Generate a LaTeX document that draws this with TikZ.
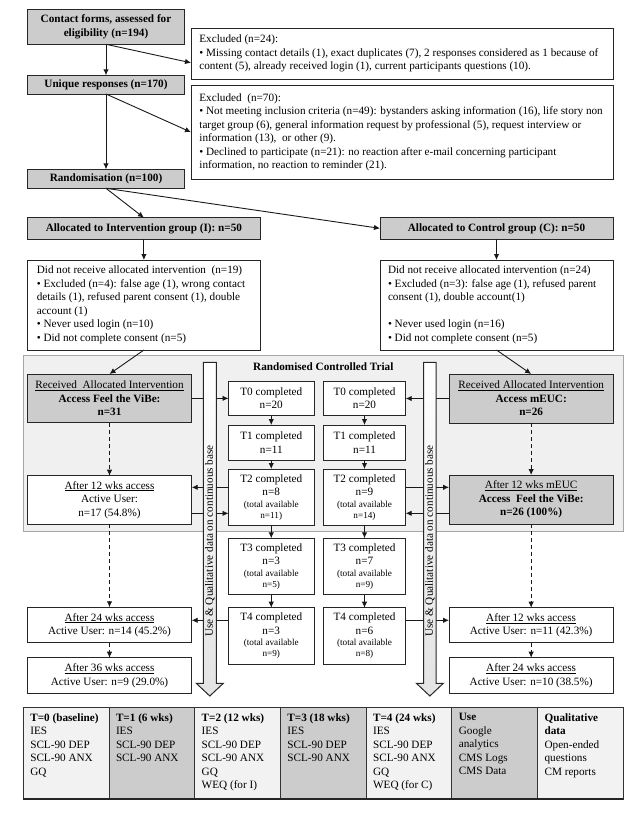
\documentclass[tikz,border=0pt]{standalone}
\usepackage{fontspec}
\setmainfont{Liberation Serif}
\usetikzlibrary{arrows.meta,calc}
\newcommand{\smf}{\fontsize{9.2}{10}\selectfont}
\begin{document}
\begin{tikzpicture}[x=1pt,y=-1pt,
  every node/.style={inner sep=0pt, outer sep=0pt},
  txt/.style={font=\fontsize{11.2}{13.5}\selectfont, align=left},
  ctxt/.style={font=\fontsize{11.2}{13.5}\selectfont, align=center},
  box/.style={draw=black!85, line width=1pt, anchor=north west, ctxt},
  gbox/.style={box, fill=gray!40},
  wbox/.style={box, fill=white},
  bfb/.style={font=\fontsize{11.2}{13.5}\selectfont\bfseries},
  arr/.style={-{Latex[length=6pt,width=5.5pt]}, line width=0.9pt, draw=black!90},
  darr/.style={arr, dash pattern=on 4pt off 3pt},
  cellb/.style={draw=black!80, line width=0.9pt, anchor=north west, minimum width=85.71pt, minimum height=91.6pt},
  bigarrow/.style={line width=1pt, draw=black!85, top color=white, bottom color=gray!22},
]
\useasboundingbox[fill=white] (0,0) rectangle (642,835);

% ---------- top flow ----------
\node[gbox, bfb, minimum width=156.4pt, minimum height=35pt] (c1) at (27.8,9.3) {Contact forms, assessed for\\eligibility (n=194)};
\node[wbox, minimum width=422pt, minimum height=50.7pt] (ex1) at (191,28.3) {};
\node[txt, anchor=west] (ex1t) at ([xshift=8.4pt]ex1.west) {Excluded (n=24):\\\textbullet\ Missing contact details (1), exact duplicates (7), 2 responses considered as 1 because of\\content (5), already received login (1), current participants questions (10).};
\node[gbox, bfb, minimum width=156.4pt, minimum height=18.7pt] (un) at (27.8,75.3) {Unique responses (n=170)};
\node[wbox, minimum width=422pt, minimum height=94.3pt] (ex2) at (191,85) {};
\node[txt, anchor=west] (ex2t) at ([xshift=8.4pt]ex2.west) {Excluded\ \ (n=70):\\\textbullet\ Not meeting inclusion criteria (n=49): bystanders asking information (16), life story non\\target group (6), general information request by professional (5), request interview or\\information (13),\ \ or other (9).\\\textbullet\ Declined to participate (n=21): no reaction after e-mail concerning participant\\information, no reaction to reminder (21).};
\node[gbox, bfb, minimum width=156.4pt, minimum height=19pt] (rd) at (27.8,169.3) {Randomisation (n=100)};
\node[gbox, bfb, minimum width=232.2pt, minimum height=21.3pt] (ai) at (27.8,217.7) {Allocated to Intervention group (I): n=50};
\node[gbox, bfb, minimum width=233pt, minimum height=21.3pt] (ac) at (380,217.7) {Allocated to Control group (C): n=50};
\node[wbox, minimum width=232.2pt, minimum height=90pt] (di) at (27.8,260) {};
\node[txt, anchor=west] (dit) at ([xshift=9pt]di.west) {Did not receive allocated intervention\ \ (n=19)\\\textbullet\ Excluded (n=4): false age (1), wrong contact\\details (1), refused parent consent (1), double\\account (1)\\\textbullet\ Never used login (n=10)\\\textbullet\ Did not complete consent (n=5)};
\node[wbox, minimum width=233pt, minimum height=90pt] (dc) at (380,260) {};
\node[txt, anchor=west] (dct) at ([xshift=8pt]dc.west) {Did not receive allocated intervention (n=24)\\\textbullet\ Excluded (n=3): false age (1), refused parent\\consent (1), double account(1)\\[13.5pt]\textbullet\ Never used login (n=16)\\\textbullet\ Did not complete consent (n=5)};

\draw[arr] (c1.south) -- (un.north);
\draw[arr] (c1.south) -- ($(ex1.south west)!0.32!(ex1.north west)$);
\draw[arr] (un.south) -- (rd.north);
\draw[arr] (un.south) -- (ex2.west);
\draw[arr] (rd.south) -- (ai.north);
\draw[arr] (rd.south) -- (ac.west);
\draw[arr] (ai.south) -- (di.north);
\draw[arr] (ac.south) -- (dc.north);

% ---------- RCT area ----------
\node[draw=gray!70, fill=gray!12, line width=0.8pt, anchor=north west, minimum width=600pt, minimum height=176pt] (rct) at (23.3,355.7) {};
\node[bfb] (rctt) at (323.3,366.5) {Randomised Controlled Trial};

\node[gbox, minimum width=164.4pt, minimum height=48.7pt] (ri) at (27.3,374) {\underline{Received\ \ Allocated Intervention}\\\textbf{Access Feel the ViBe:}\\\textbf{n=31}};
\node[wbox, minimum width=164.4pt, minimum height=48.3pt] (a12i) at (27.3,475.7) {\underline{After 12 wks access}\\Active User:\\n=17 (54.8\%)};
\node[wbox, minimum width=164.4pt, minimum height=35.4pt] (a24i) at (27.3,607.3) {\underline{After 24 wks access}\\Active User: n=14 (45.2\%)};
\node[wbox, minimum width=164.4pt, minimum height=35.6pt] (a36i) at (27.3,657.7) {\underline{After 36 wks access}\\Active User: n=9 (29.0\%)};
\node[gbox, minimum width=164.3pt, minimum height=49pt] (rc) at (449,374) {\underline{Received Allocated Intervention}\\\textbf{Access mEUC:}\\\textbf{n=26}};
\node[gbox, minimum width=164.3pt, minimum height=49pt] (m12) at (449,475) {\underline{After 12 wks mEUC}\\\textbf{Access\ \ Feel the ViBe:}\\\textbf{n=26 (100\%)}};
\node[wbox, minimum width=164.3pt, minimum height=35pt] (a12c) at (449,607.7) {\underline{After 12 wks access}\\Active User: n=11 (42.3\%)};
\node[wbox, minimum width=164.3pt, minimum height=35.6pt] (a24c) at (449,657.7) {\underline{After 24 wks access}\\Active User: n=10 (38.5\%)};

\node[wbox, minimum width=85.5pt, minimum height=34.7pt] (t0i) at (228.5,381) {T0 completed\\n=20};
\node[wbox, minimum width=85.5pt, minimum height=35pt] (t1i) at (228.5,425) {T1 completed\\n=11};
\node[wbox, minimum width=85.5pt, minimum height=56.7pt] (t2i) at (228.5,469) {T2 completed\\n=8\\[-1.8pt]{\smf (total available}\\[-2.5pt]{\smf n=11)}};
\node[wbox, minimum width=85.5pt, minimum height=56.2pt] (t3i) at (228.5,538.3) {T3 completed\\n=3\\[-1.8pt]{\smf (total available}\\[-2.5pt]{\smf n=5)}};
\node[wbox, minimum width=85.5pt, minimum height=56.3pt] (t4i) at (228.5,607.7) {T4 completed\\n=3\\[-1.8pt]{\smf (total available}\\[-2.5pt]{\smf n=9)}};
\node[wbox, minimum width=82.4pt, minimum height=34.7pt] (t0c) at (323.3,381) {T0 completed\\n=20};
\node[wbox, minimum width=82.4pt, minimum height=35pt] (t1c) at (323.3,425) {T1 completed\\n=11};
\node[wbox, minimum width=82.4pt, minimum height=56.7pt] (t2c) at (323.3,469) {T2 completed\\n=9\\[-1.8pt]{\smf (total available}\\[-2.5pt]{\smf n=14)}};
\node[wbox, minimum width=82.4pt, minimum height=56.2pt] (t3c) at (323.3,538.3) {T3 completed\\n=7\\[-1.8pt]{\smf (total available}\\[-2.5pt]{\smf n=9)}};
\node[wbox, minimum width=82.4pt, minimum height=56.3pt] (t4c) at (323.3,607.7) {T4 completed\\n=6\\[-1.8pt]{\smf (total available}\\[-2.5pt]{\smf n=8)}};

\draw[arr] (di.south) -- (ri.north);
\draw[arr] (dc.south) -- (rc.north);

% intervention side
\draw[arr] (ri.east) -- (ri.east -| t0i.west);
\coordinate (pa) at ([yshift=12.5pt]a12i.east);
\coordinate (pb) at ([yshift=-13.5pt]a12i.east);
\draw[arr] (pa -| t2i.west) -- (pa);
\draw[arr] (pb) -- (pb -| t2i.west);
\coordinate (pc) at ([yshift=4.7pt]a24i.east);
\draw[arr] (pc -| t4i.west) -- (pc);
\draw[arr] (t0i.south) -- (t1i.north);
\draw[arr] (t1i.south) -- (t2i.north);
\draw[arr] (t2i.south) -- (t3i.north);
\draw[arr] (t3i.south) -- (t4i.north);
\draw[darr] (ri.south) -- (a12i.north);
\draw[darr] (a12i.south) -- (a24i.north);
\draw[darr] (a24i.south) -- (a36i.north);

% control side
\draw[arr] (rc.west) -- (rc.west -| t0c.east);
\coordinate (pd) at ([yshift=12.2pt]m12.west);
\coordinate (pe) at ([yshift=-13.8pt]m12.west);
\draw[arr] (pd -| t2c.east) -- (pd);
\draw[arr] (pe) -- (pe -| t2c.east);
\coordinate (pf) at ([yshift=4.9pt]a12c.west);
\draw[arr] (pf -| t4c.east) -- (pf);
\draw[arr] (t0c.south) -- (t1c.north);
\draw[arr] (t1c.south) -- (t2c.north);
\draw[arr] (t2c.south) -- (t3c.north);
\draw[arr] (t3c.south) -- (t4c.north);
\draw[darr] (rc.south) -- (m12.north);
\draw[darr] (m12.south) -- (a12c.north);
\draw[darr] (a12c.south) -- (a24c.north);

% big data arrows
\path[bigarrow] (203.3,362.3) -- (216.3,362.3) -- (216.3,683.3) -- (223.3,683.3) -- (209.8,696) -- (196.3,683.3) -- (203.3,683.3) -- cycle;
\node[ctxt, rotate=90] (ul) at (209.8,541) {Use \& Qualitative data on continuous base};
\path[bigarrow] (423.6,362.3) -- (436.1,362.3) -- (436.1,683.3) -- (443.3,683.3) -- (429.85,696) -- (416.4,683.3) -- (423.6,683.3) -- cycle;
\node[ctxt, rotate=90] (ur) at (429.85,541) {Use \& Qualitative data on continuous base};

% ---------- table ----------
\node[cellb, fill=gray!10] (k1) at (23.3,707.7) {};
\node[cellb, fill=gray!40] (k2) at (109.01,707.7) {};
\node[cellb, fill=gray!10] (k3) at (194.72,707.7) {};
\node[cellb, fill=gray!40] (k4) at (280.43,707.7) {};
\node[cellb, fill=gray!10] (k5) at (366.14,707.7) {};
\node[cellb, fill=gray!40] (k6) at (451.85,707.7) {};
\node[cellb, fill=gray!10] (k7) at (537.56,707.7) {};
\draw[line width=2pt, black!85] (k1.south west) -- (k7.south east);
\node[txt, anchor=north west] (k1t) at ([xshift=7pt,yshift=-5.6pt]k1.north west) {\textbf{T=0 (baseline)}\\IES\\SCL-90 DEP\\SCL-90 ANX\\GQ};
\node[txt, anchor=north west] (k2t) at ([xshift=7pt,yshift=-5.6pt]k2.north west) {\textbf{T=1 (6 wks)}\\IES\\SCL-90 DEP\\SCL-90 ANX};
\node[txt, anchor=north west] (k3t) at ([xshift=7pt,yshift=-5.6pt]k3.north west) {\textbf{T=2 (12 wks)}\\IES\\SCL-90 DEP\\SCL-90 ANX\\GQ\\WEQ (for I)};
\node[txt, anchor=north west] (k4t) at ([xshift=7pt,yshift=-5.6pt]k4.north west) {\textbf{T=3 (18 wks)}\\IES\\SCL-90 DEP\\SCL-90 ANX};
\node[txt, anchor=north west] (k5t) at ([xshift=7pt,yshift=-5.6pt]k5.north west) {\textbf{T=4 (24 wks)}\\IES\\SCL-90 DEP\\SCL-90 ANX\\GQ\\WEQ (for C)};
\node[txt, anchor=north west] (k6t) at ([xshift=7pt,yshift=-5.6pt]k6.north west) {\textbf{Use}\\Google\\analytics\\CMS Logs\\CMS Data};
\node[txt, anchor=north west] (k7t) at ([xshift=7pt,yshift=-5.6pt]k7.north west) {\textbf{Qualitative}\\\textbf{data}\\Open-ended\\questions\\CM reports};
\end{tikzpicture}
\end{document}
